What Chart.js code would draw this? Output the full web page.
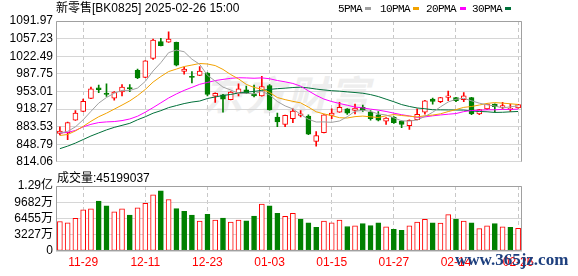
<!DOCTYPE html>
<html><head><meta charset="utf-8">
<script src="https://cdn.jsdelivr.net/npm/chart.js@4.4.1/dist/chart.umd.min.js"></script>
<style>
html,body{margin:0;padding:0;background:#fff;}
#wrap{position:relative;width:578px;height:276px;overflow:hidden;font-family:"Liberation Sans","Noto Sans CJK SC",sans-serif;}
canvas{position:absolute;left:0;}
#c1{top:0;}
#c2{top:170px;}
.t{position:absolute;white-space:nowrap;color:#000;line-height:14px;}
#wm{position:absolute;left:203px;top:64px;font:bold italic 40px "Noto Sans CJK SC";color:#eeeeee;letter-spacing:2px;}
.mk{position:absolute;width:6px;height:3px;}
#site{position:absolute;left:455px;top:250px;font:bold 17px "Liberation Serif",serif;color:#1d3f7e;}
</style></head>
<body><div id="wrap">
<div id="wm">东方财富</div>
<canvas id="c1" width="578" height="172"></canvas>
<canvas id="c2" width="578" height="106"></canvas>
<div class="t" id="title" style="left:56px;top:1px;font-size:12px;"></div>
<div id="legend"></div>
<div class="t" id="voltitle" style="left:57px;top:171px;font-size:12px;"></div>
<div id="site">www.365jz.com</div>
</div>
<script>
const titleText = '新零售[BK0825] 2025-02-26 15:00';
const dates = ['11-26','11-27','11-28','11-29','12-02','12-03','12-04','12-05','12-06','12-09','12-10','12-11','12-12','12-13','12-16','12-17','12-18','12-19','12-20','12-23','12-24','12-25','12-26','12-27','12-30','12-31','01-02','01-03','01-06','01-07','01-08','01-09','01-10','01-13','01-14','01-15','01-16','01-17','01-20','01-21','01-22','01-23','01-24','01-27','02-05','02-06','02-07','02-10','02-11','02-12','02-13','02-14','02-17','02-18','02-19','02-20','02-21','02-24','02-25','02-26'];
const opens  = [870.3,871.7,896.1,913.4,939.0,960.2,949.2,939.6,951.9,960.7,994.8,980.8,1017.9,1051.2,1050.0,1050.0,992.3,982.7,984.6,989.0,943.4,946.1,936.5,949.2,956.3,947.3,944.2,964.6,902.5,887.6,899.2,905.7,904.4,854.4,871.7,905.7,912.1,918.4,915.4,921.7,912.1,906.9,894.2,902.5,894.2,885.2,897.3,912.1,937.7,932.6,940.9,940.9,936.5,940.9,908.8,918.4,928.0,921.7,917.8,920.3];
const highs  = [883.2,892.5,915.4,937.7,961.5,965.4,967.9,952.5,966.5,966.5,997.3,1014.0,1056.4,1057.7,1070.4,1050.5,1001.2,992.3,1001.9,990.0,950.0,947.0,952.5,967.9,963.5,965.4,982.7,966.5,910.2,906.5,918.4,915.4,906.9,873.6,907.5,918.4,931.3,919.0,928.0,926.1,915.4,913.4,901.2,903.5,894.8,896.7,918.4,935.2,939.6,941.5,953.8,941.5,950.6,941.5,917.8,928.6,928.6,931.3,928.0,927.5];
const lows   = [867.2,857.6,895.5,912.8,938.5,950.6,942.9,935.7,944.2,952.5,978.1,980.0,1016.0,1043.0,1049.5,1003.1,987.1,969.8,984.0,944.2,931.3,912.1,936.0,944.2,948.5,942.3,943.5,916.0,883.2,883.2,891.5,902.5,867.8,844.7,871.0,899.2,911.5,907.6,908.8,913.4,896.1,894.8,887.6,890.0,881.3,878.0,896.7,908.0,928.0,931.0,934.6,932.6,932.6,906.9,906.9,917.0,912.1,918.4,913.4,919.8];
const closes = [874.9,891.5,910.2,933.2,958.2,956.3,947.3,951.9,961.5,957.7,979.4,1013.5,1054.5,1043.5,1056.4,1005.0,997.3,980.8,992.9,947.3,949.0,937.7,951.9,958.2,949.0,944.2,962.7,916.5,892.9,905.7,914.0,908.8,868.4,865.9,906.9,910.2,921.7,910.2,920.3,916.5,899.2,896.1,900.6,891.5,887.6,896.1,907.6,934.6,933.2,940.9,944.2,934.6,944.2,908.8,917.2,928.0,923.0,924.9,919.8,926.9];
const volumes = [58600000,56100000,64900000,81700000,83600000,99200000,89800000,78000000,83600000,71100000,85500000,94900000,111700000,119700000,102300000,84200000,78600000,71100000,59300000,73000000,61200000,65500000,57400000,61200000,59900000,69200000,93000000,89800000,74800000,68700000,74800000,63600000,56100000,46800000,59300000,56100000,61200000,48600000,49900000,54300000,50500000,56100000,48100000,43000000,41200000,49900000,57400000,63100000,56100000,55600000,72400000,63600000,59300000,56100000,44300000,49900000,54300000,48100000,46800000,45199037];
const ma5  = [871,874,883,897,913.6,929.9,941.0,949.4,955.0,954.9,959.6,972.8,993.3,1009.7,1029.5,1034.6,1031.3,1016.6,1006.5,984.7,973.5,961.5,955.8,948.8,949.2,948.2,953.2,946.1,933.1,924.4,918.4,907.6,898.0,892.6,892.8,892.0,894.6,903.0,913.9,915.8,913.6,908.5,906.5,900.8,895.0,894.4,896.7,903.5,911.8,922.5,932.1,937.5,939.4,934.5,929.8,926.6,924.2,920.4,922.6,924.5];
const ma10 = [866,868,875,884,894,903,910,918,926,934.3,944.7,956.9,971.4,982.4,992.2,997.1,1002.1,1005.0,1008.1,1007.1,1004.0,996.4,986.2,977.7,966.9,960.8,957.4,950.9,940.9,936.8,933.3,930.4,922.0,912.8,908.6,905.2,901.1,900.5,903.2,904.3,902.8,901.5,904.8,907.3,905.4,904.0,902.6,905.0,906.3,908.7,913.2,917.1,921.5,923.2,926.1,929.3,930.9,929.9,928.6,927.2];
const ma20 = [871,872,876,883,888,891.5,892.8,893.5,895.4,898.6,904,912,921,930.5,940,948,955,961,967,970.7,974.4,976.7,978.8,980.0,979.6,979.0,979.7,978.0,974.5,971.9,968.7,963.4,954.1,945.2,937.8,933.0,929.2,925.7,922.1,920.5,918.0,916.0,913.4,910.1,907.0,904.6,901.8,902.7,904.8,906.5,908.0,909.3,913.1,915.3,915.8,916.7,916.7,917.5,917.4,918.0];
const ma30 = [840,845,851,858,865,871,877,882,886,890,897,903,910,915,921,925,929,932,934,939,942,945,947,950,951.5,953,955,957,958.4,959.4,960.7,961.3,959.9,957.6,955.9,954.4,953.5,952.1,950.8,949.4,946.7,942.8,937.7,932.6,927.0,923.3,920.3,918.8,916.8,916.6,916.4,916.3,916.1,914.4,913.4,912.8,911.5,911.8,912.7,913.4];
const maNames  = ['5PMA','10PMA','20PMA','30PMA'];
const maColors = ['#a0a0a0','#f2a200','#ff00ff','#00703a'];
const priceTicks = [814.06,848.79,883.53,918.27,953.01,987.75,1022.49,1057.23,1091.97];
const volTickValues = [0,32275000,64550000,96825000,129100000];
const volTickLabels = ['0','3227万','6455万','9682万','1.29亿'];
const volLabel = '成交量';

const RED='#ff0000', GREEN='#008000';
Chart.defaults.font.family = '"Liberation Sans","Noto Sans CJK SC",sans-serif';
Chart.defaults.font.size = 12;
Chart.defaults.color = '#000';

document.getElementById('title').textContent = titleText;
document.getElementById('voltitle').textContent = volLabel + ':' + volumes[volumes.length-1];
const legendX = [[338,365],[380,413],[426,460],[472,505]];
const lg = document.getElementById('legend');
maNames.forEach((n,i)=>{
  const t=document.createElement('div'); t.className='t'; t.textContent=n;
  t.style.cssText='left:'+legendX[i][0]+'px;top:2px;font-family:"Liberation Mono",monospace;font-size:11px;letter-spacing:-0.6px;';
  lg.appendChild(t);
  const m=document.createElement('div'); m.className='mk';
  m.style.cssText='left:'+legendX[i][1]+'px;top:7px;background:'+maColors[i]+';';
  lg.appendChild(m);
});

const up = closes.map((c,i)=>c>=opens[i]);
const volUp = closes.map((c,i)=> i===0 ? true : c>=closes[i-1]);

function framePlugin(sides, color){
  return {id:'frame', afterDatasetsDraw(chart){
    const {ctx, chartArea:a} = chart;
    const l=Math.round(a.left)+0.5, r=Math.round(a.right)-0.5, t=Math.round(a.top)+0.5, b=Math.round(a.bottom)-0.5;
    ctx.save(); ctx.strokeStyle=color; ctx.lineWidth=1; ctx.beginPath();
    if(sides.includes('t')){ctx.moveTo(l,t);ctx.lineTo(r,t);}
    if(sides.includes('l')){ctx.moveTo(l,t);ctx.lineTo(l,b);}
    if(sides.includes('r')){ctx.moveTo(r,t);ctx.lineTo(r,b);}
    if(sides.includes('b')){ctx.moveTo(l,b);ctx.lineTo(r,b);}
    ctx.stroke(); ctx.restore();
  }};
}
const vGrid = c => (c.index % 8 === 3) ? '#c8c8c8' : 'rgba(0,0,0,0)';

const maSets = [ma5,ma10,ma20,ma30].map((d,i)=>({
  type:'line', label:maNames[i], data:d, borderColor:maColors[i], borderWidth:1,
  pointRadius:0, tension:0, order:i
}));

new Chart(document.getElementById('c1'),{
  type:'bar',
  data:{labels:dates, datasets:[
    ...maSets,
    {label:'body', data:opens.map((o,i)=>[o,closes[i]]),
     backgroundColor:up.map(u=>u?'#ffffff':GREEN), borderColor:up.map(u=>u?RED:GREEN),
     borderWidth:1, borderSkipped:false, barThickness:5, grouped:false, order:5},
    {label:'wick', data:lows.map((l,i)=>[l,highs[i]]),
     backgroundColor:up.map(u=>u?RED:GREEN), borderWidth:0, barThickness:1, grouped:false, order:6}
  ]},
  options:{
    responsive:false, animation:false, events:[],
    layout:{padding:{top:21,right:56,bottom:6,left:0}},
    plugins:{legend:{display:false}, tooltip:{enabled:false}},
    scales:{
      x:{offset:true, grid:{offset:false, drawTicks:false, color:vGrid}, border:{display:false, dash:[4,3]}, ticks:{display:false}},
      y:{min:814.06, max:1091.97,
         afterBuildTicks:s=>{s.ticks=priceTicks.map(v=>({value:v}));},
         afterFit:s=>{s.width=56;},
         ticks:{autoSkip:false, callback:v=>Number(v).toFixed(2), padding:3, color:'#000'},
         grid:{color:'#d6d6d6', drawTicks:false}, border:{display:false}}
    }
  },
  plugins:[framePlugin('tlr','#a0a0a0')]
});

new Chart(document.getElementById('c2'),{
  type:'bar',
  data:{labels:dates, datasets:[
    {label:volLabel, data:volumes,
     backgroundColor:volUp.map(u=>u?'#ffffff':GREEN), borderColor:volUp.map(u=>u?RED:GREEN),
     borderWidth:1, borderSkipped:false, barThickness:5}
  ]},
  options:{
    responsive:false, animation:false, events:[],
    layout:{padding:{top:16,right:56,bottom:2.6,left:0}},
    plugins:{legend:{display:false}, tooltip:{enabled:false}},
    scales:{
      x:{offset:true, grid:{offset:false, drawTicks:false, color:vGrid}, border:{display:false, dash:[4,3]},
         ticks:{autoSkip:false, maxRotation:0, padding:4, color:RED, callback:(v,i)=> (i%8===3)?dates[i]:''}},
      y:{min:0, max:129100000,
         afterBuildTicks:s=>{s.ticks=volTickValues.map(v=>({value:v}));},
         afterFit:s=>{s.width=56;},
         ticks:{autoSkip:false, callback:(v,i)=>volTickLabels[i], padding:3, color:'#000'},
         grid:{color:'#d6d6d6', drawTicks:false}, border:{display:false}}
    }
  },
  plugins:[framePlugin('tlrb','#a0a0a0')]
});
</script>
</body></html>
